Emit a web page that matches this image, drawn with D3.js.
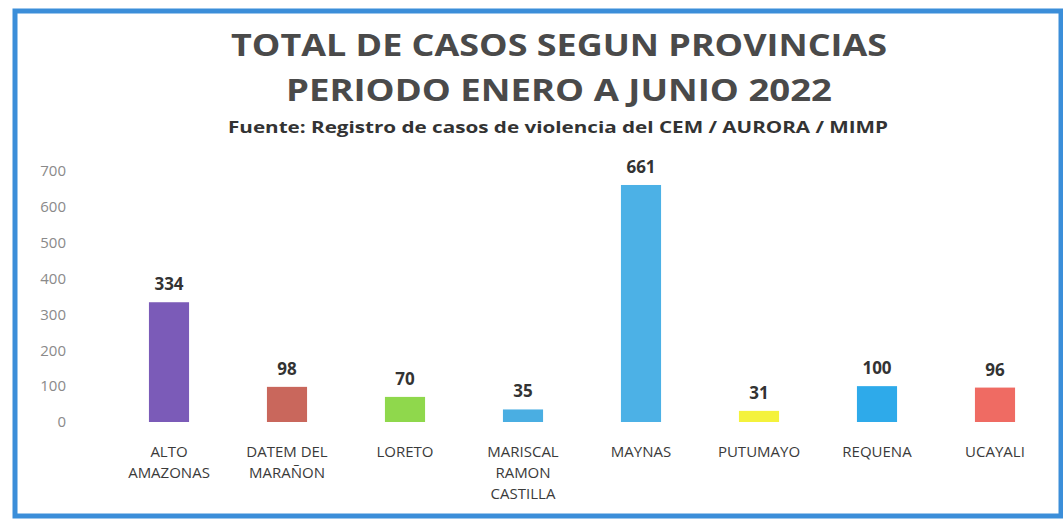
<!DOCTYPE html>
<html>
<head>
<meta charset="utf-8">
<script src="https://cdn.jsdelivr.net/npm/d3@7"></script>
<style>
  body { margin: 0; background: #fff; }
  svg { display: block; }
</style>
</head>
<body>
<svg id="chart" width="1063" height="522"></svg>
<script>
// chart data
var provincias = ["ALTO AMAZONAS", "DATEM DEL MARAÑON", "LORETO", "MARISCAL RAMON CASTILLA",
                  "MAYNAS", "PUTUMAYO", "REQUENA", "UCAYALI"];
var casos = [334, 98, 70, 35, 661, 31, 100, 96];
var labelLines = [["ALTO", "AMAZONAS"], ["DATEM DEL", "MARAÑON"], ["LORETO"], ["MARISCAL", "RAMON", "CASTILLA"],
                  ["MAYNAS"], ["PUTUMAYO"], ["REQUENA"], ["UCAYALI"]];
var yTicks = [0, 100, 200, 300, 400, 500, 600, 700];
var colores = ["#7b5bb8", "#c9675c", "#8fd84c", "#4aaee2", "#4cb1e6", "#f4f23c", "#2eaaea", "#ef6b63"];

var svg = d3.select("#chart");
var font = "'Open Sans', 'Liberation Sans', sans-serif";

// blue frame
svg.append("rect")
    .attr("x", 15).attr("y", 11)
    .attr("width", 1046).attr("height", 505)
    .attr("fill", "none")
    .attr("stroke", "#3b8ed9")
    .attr("stroke-width", 5);

// titles
svg.append("text").attr("x", 559).attr("y", 56)
    .attr("text-anchor", "middle").attr("font-family", font)
    .attr("font-weight", "bold").attr("font-size", 30).attr("fill", "#4a4a4a")
    .attr("textLength", 656).attr("lengthAdjust", "spacingAndGlyphs")
    .text("TOTAL DE CASOS SEGUN PROVINCIAS");
svg.append("text").attr("x", 559).attr("y", 101)
    .attr("text-anchor", "middle").attr("font-family", font)
    .attr("font-weight", "bold").attr("font-size", 30).attr("fill", "#4a4a4a")
    .attr("textLength", 546).attr("lengthAdjust", "spacingAndGlyphs")
    .text("PERIODO ENERO A JUNIO 2022");
svg.append("text").attr("x", 558).attr("y", 133)
    .attr("text-anchor", "middle").attr("font-family", font)
    .attr("font-weight", "bold").attr("font-size", 16).attr("fill", "#333")
    .attr("textLength", 660).attr("lengthAdjust", "spacingAndGlyphs")
    .text("Fuente: Registro de casos de violencia del CEM / AURORA / MIMP");

// scales
var x = d3.scaleBand().domain(provincias).range([110, 1054]).paddingInner(0.66).paddingOuter(0.33);
var y = d3.scaleLinear().domain([0, 700]).range([422, 171]);

// y axis (labels only)
var yAxis = svg.append("g").attr("transform", "translate(66,0)")
    .call(d3.axisLeft(y).tickValues(yTicks).tickSize(0).tickPadding(0));
yAxis.select(".domain").remove();
yAxis.selectAll("text")
    .attr("font-family", font).attr("font-size", 15).attr("fill", "#8a8a8a");

// bars
svg.selectAll("rect.bar").data(casos).enter().append("rect")
    .attr("class", "bar")
    .attr("x", function (d, i) { return x(provincias[i]); })
    .attr("y", function (d) { return y(d); })
    .attr("width", x.bandwidth())
    .attr("height", function (d) { return y(0) - y(d); })
    .attr("fill", function (d, i) { return colores[i]; });

// value labels
svg.selectAll("text.valor").data(casos).enter().append("text")
    .attr("class", "valor")
    .attr("x", function (d, i) { return x(provincias[i]) + x.bandwidth() / 2; })
    .attr("y", function (d) { return y(d) - 12; })
    .attr("text-anchor", "middle").attr("font-family", font)
    .attr("font-weight", "bold").attr("font-size", 17).attr("fill", "#333")
    .text(function (d) { return d; });

// category labels
var cat = svg.selectAll("text.cat").data(labelLines).enter().append("text")
    .attr("class", "cat")
    .attr("x", function (d, i) { return x(provincias[i]) + x.bandwidth() / 2; })
    .attr("y", 457)
    .attr("text-anchor", "middle").attr("font-family", font)
    .attr("font-size", 15).attr("fill", "#3a3a3a");
cat.selectAll("tspan").data(function (d) { return d; }).enter().append("tspan")
    .attr("x", function () { return d3.select(this.parentNode).attr("x"); })
    .attr("dy", function (d, j) { return j === 0 ? 0 : 21; })
    .text(function (d) { return d; });
</script>
</body>
</html>
